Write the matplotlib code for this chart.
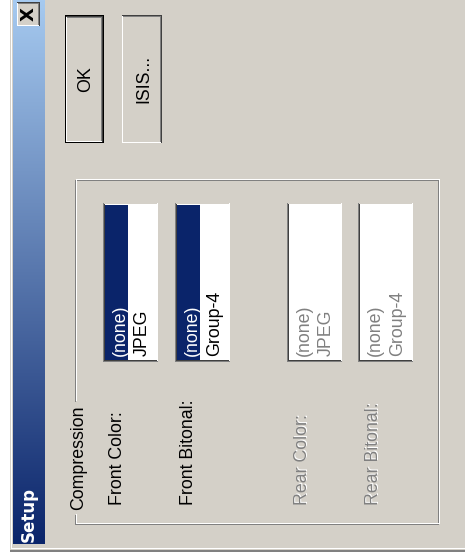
import numpy as np
import matplotlib
matplotlib.use("Agg")
import matplotlib.pyplot as plt
from matplotlib.patches import Rectangle
from matplotlib import font_manager

# dialog contents (the screenshot is turned 90 degrees, text reads bottom to top)
title = "Setup"
buttons = ["OK", "ISIS..."]
button_default = [True, False]
group_title = "Compression"
field_labels = ["Front Color:", "Front Bitonal:", "Rear Color:", "Rear Bitonal:"]
field_items = [["(none)", "JPEG"], ["(none)", "Group-4"],
               ["(none)", "JPEG"], ["(none)", "Group-4"]]
field_enabled = [True, True, False, False]

W, H = 465, 558
FACE = "#d4d0c8"
NAVY = "#0a246a"
GREY = "#808080"
DARK = "#404040"

names = {f.name for f in font_manager.fontManager.ttflist}
if "Liberation Sans Narrow" in names:
    UI_FONT, FS = "Liberation Sans Narrow", 15.5
else:
    UI_FONT, FS = "Liberation Sans", 12.8

fig = plt.figure(figsize=(W / 100, H / 100), dpi=100)
ax = fig.add_axes([0, 0, 1, 1])
ax.axis("off")


def rect(x0, y0, x1, y1, color, z=1):
    ax.add_patch(Rectangle((x0, y0), x1 - x0, y1 - y0, facecolor=color,
                           edgecolor="none", lw=0, antialiased=False, zorder=z))


def raised(x0, y0, x1, y1, z=1):
    rect(x0, y0, x1, y1, FACE, z)
    rect(x0, y0, x1, y0 + 1, DARK, z)          # top
    rect(x1 - 1, y0, x1, y1, DARK, z)          # right
    rect(x0 + 1, y0 + 1, x1 - 1, y0 + 2, GREY, z)
    rect(x1 - 2, y0 + 1, x1 - 1, y1 - 1, GREY, z)
    rect(x0, y0 + 1, x0 + 1, y1, "white", z)   # left
    rect(x0, y1 - 1, x1 - 1, y1, "white", z)   # bottom


def sunken(x0, y0, x1, y1, fill="white"):
    rect(x0, y0, x1, y1, fill)
    rect(x0, y0, x1, y0 + 1, FACE)          # top
    rect(x1 - 1, y0, x1, y1, "white")       # right
    rect(x0, y0, x0 + 1, y1, GREY)          # left
    rect(x0, y1 - 1, x1, y1, GREY)          # bottom
    rect(x0 + 1, y0 + 1, x0 + 2, y1 - 1, DARK)
    rect(x0 + 1, y1 - 2, x1 - 1, y1 - 1, DARK)


def vtext(x, y, s, color="black", ha="left", **kw):
    kw.setdefault("family", UI_FONT)
    kw.setdefault("fontsize", FS)
    ax.text(x, y, s, rotation=90, rotation_mode="anchor", ha=ha,
            va="baseline", color=color, zorder=5, **kw)


def label(x, y, s, enabled, ha="left"):
    if enabled:
        vtext(x, y, s, ha=ha)
    else:
        vtext(x + 1, y - 1, s, color="white", ha=ha)
        vtext(x, y, s, color=GREY, ha=ha)


# ---------- window ----------
rect(0, 0, W, H, "white")
rect(10, 0, W, 550, FACE)
rect(11, 0, 12, 548, "white")
rect(11, 548, W, 549, "white")
rect(10, 550, W, 552, GREY)

# title bar gradient (dark at bottom -> light at top)
c0 = np.array([0x0a, 0x24, 0x6a]) / 255
c1 = np.array([0xa6, 0xca, 0xf0]) / 255
t = np.linspace(0, 1, 256)[:, None]
grad = (c1 * (1 - t) + c0 * t)[:, None, :]
ax.imshow(grad, extent=(13, 44, 544, 0), aspect="auto",
          interpolation="bilinear", zorder=2)
ax.text(34, 542, title, rotation=90, rotation_mode="anchor", ha="left",
        va="baseline", color="white", family="DejaVu Sans",
        fontweight="bold", fontsize=12, zorder=5)

# close box
raised(17, 2, 40, 26, z=3)
ax.text(34, 14, "X", rotation=90, rotation_mode="anchor", ha="center",
        va="baseline", color="black", family="DejaVu Sans",
        fontweight="bold", fontsize=13, zorder=5)

# ---------- buttons ----------
btn_x = [(65, 104), (122, 162)]
btn_base = [90, 148]
for (x0, x1), s, d, bx in zip(btn_x, buttons, button_default, btn_base):
    if d:
        rect(x0, 15, x1, 143, "black")
        raised(x0 + 1, 16, x1 - 1, 142)
    else:
        raised(x0, 15, x1, 143)
    vtext(bx, 79, s, ha="center")

# ---------- group box ----------
gx0, gy0, gx1, gy1 = 75, 180, 438, 524
gap0, gap1 = 402, 515
for off, col in ((0, GREY), (1, "white")):
    rect(gx0 + off, gy0 - off, gx1 + off, gy0 - off + 1, col)      # top
    rect(gx1 + off, gy0 - off, gx1 + off + 1, gy1 - off + 1, col)  # right
    rect(gx0 + off, gy1 - off, gx1 + off + 1, gy1 - off + 1, col)  # bottom
    rect(gx0 + off, gy0 - off, gx0 + off + 1, gap0 - off, col)     # left, above label
    rect(gx0 + off, gap1 - off, gx0 + off + 1, gy1 - off, col)     # left, below label
vtext(83, 510, group_title)

# ---------- fields ----------
label_base = [122, 193, 307, 378]
list_left = [103, 175, 287, 358]
for lab, items, en, lb, lx in zip(field_labels, field_items, field_enabled,
                                  label_base, list_left):
    label(lb, 505, lab, en)
    sunken(lx, 203, lx + 55, 362)
    if en:
        rect(lx + 2, 205, lx + 25, 360, NAVY)
    for i, s in enumerate(items):
        col = "white" if (en and i == 0) else ("black" if en else GREY)
        vtext(lx + 22 + 22 * i, 356, s, color=col)

ax.set_xlim(0, W)
ax.set_ylim(H, 0)
fig.savefig("out.png", dpi=100)
